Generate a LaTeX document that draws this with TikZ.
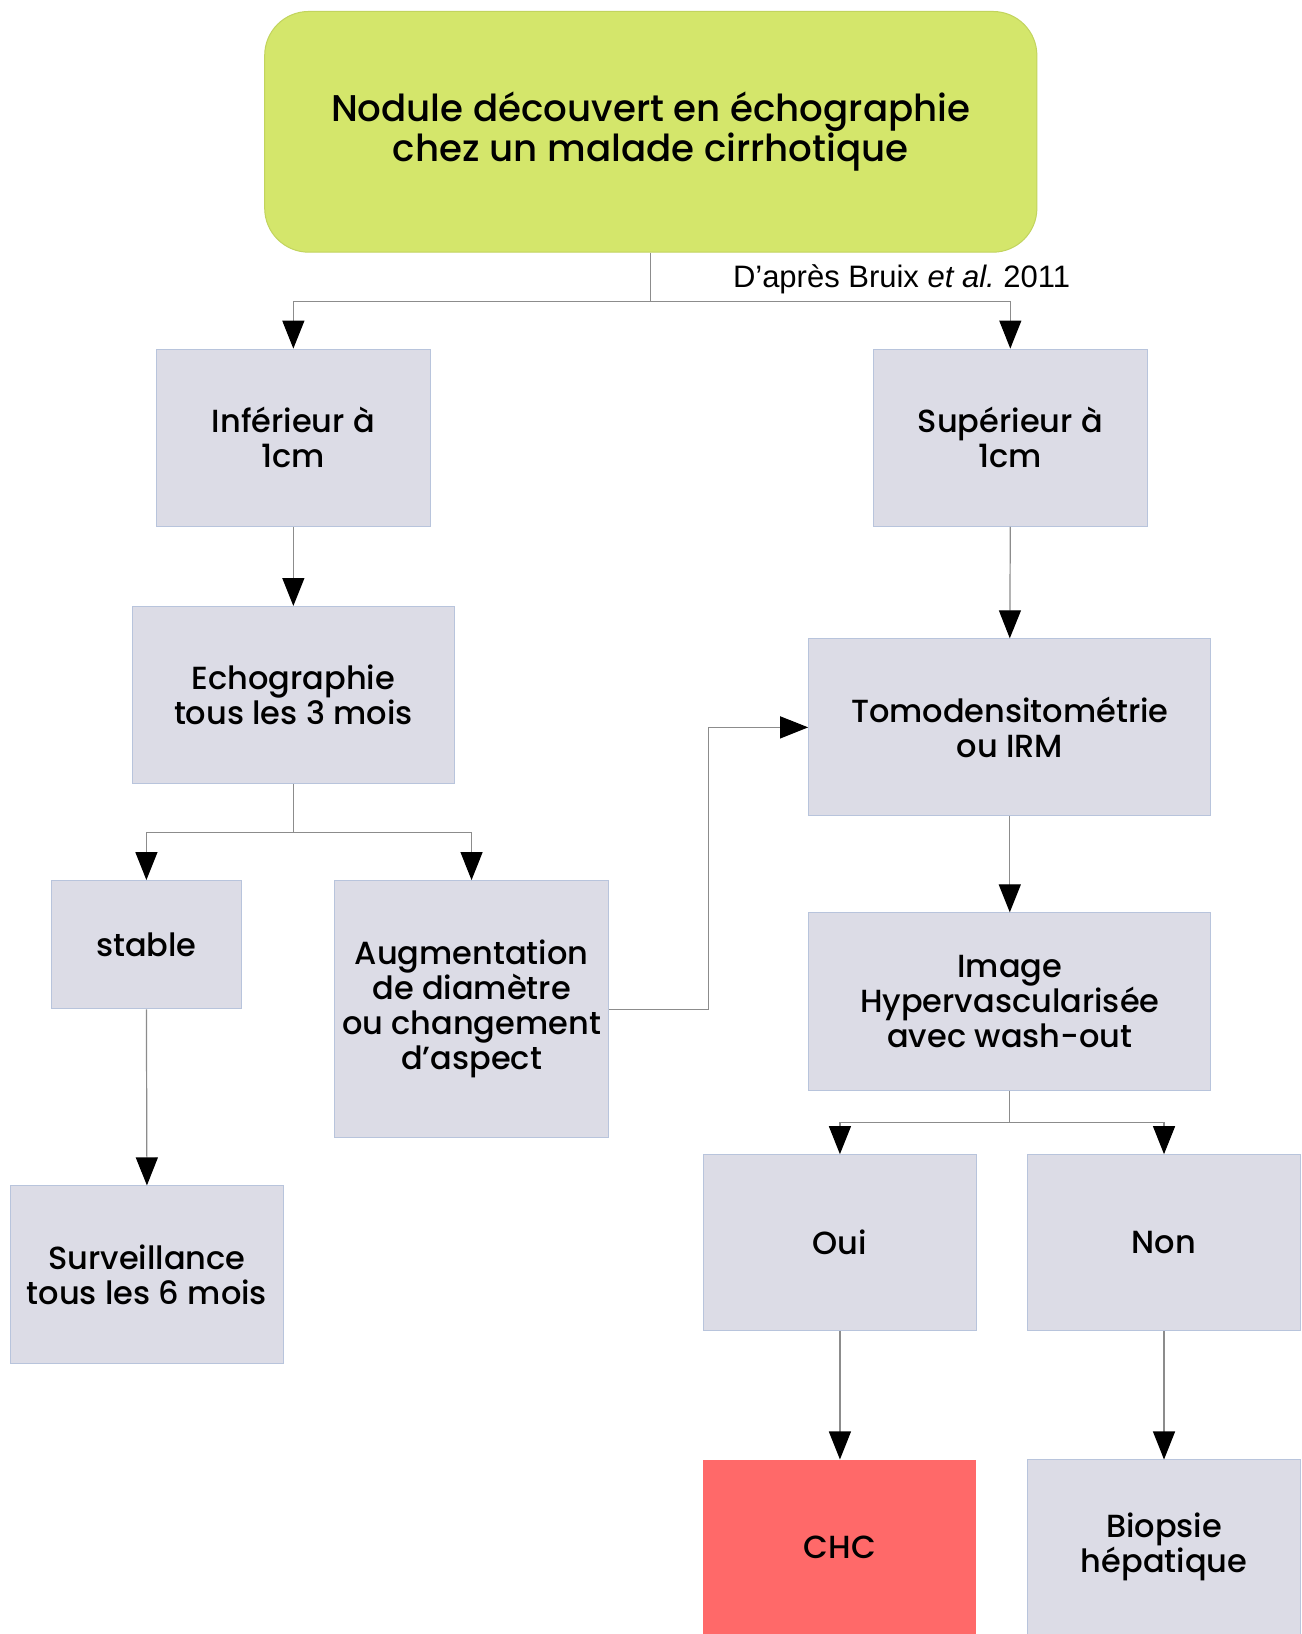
\documentclass[tikz,border=0pt]{standalone}
\usepackage{fontspec}
\setmainfont{Poppins}[UprightFont=* Medium]
\newfontfamily\citefont{Liberation Sans}
\usetikzlibrary{arrows.meta,calc}
\def\pxu{0.5212pt}
\definecolor{boxfill}{HTML}{DCDCE6}
\definecolor{boxline}{HTML}{B8C4DC}
\definecolor{topfill}{HTML}{D4E66B}
\definecolor{topline}{HTML}{C2D45E}
\definecolor{chcfill}{HTML}{FF6969}
\definecolor{connline}{HTML}{8C8C8C}
\tikzset{
  stepbox/.style={draw=boxline, fill=boxfill, line width=0.5pt, inner sep=0pt,
    align=center, font=\fontsize{16}{17.5}\selectfont, text=black},
  conn/.style={draw=connline, line width=0.6pt},
  arr/.style={conn, -{Triangle[length=14pt,width=11pt,black]}},
}
\begin{document}
\begin{tikzpicture}[x=\pxu, y=-\pxu]
\useasboundingbox (0,0) rectangle (1249,1568);
\fill[white] (0,0) rectangle (1249,1568);

\node[draw=topline, fill=topfill, rounded corners=22pt, line width=0.5pt,
  minimum width=741*\pxu, minimum height=231*\pxu, align=center,
  font=\fontsize{18.6}{19.8}\selectfont] (top) at (624.5,126.5)
  {Nodule découvert en échographie\\chez un malade cirrhotique};

\node[font=\citefont\fontsize{15.5}{17}\selectfont, anchor=west, inner sep=0pt] (cite) at (703,268)
  {D’après Bruix \textit{et al.}\ 2011};

\node[stepbox, minimum width=263*\pxu, minimum height=170*\pxu] (inf) at (281.5,420) {Inférieur à\\1cm};
\node[stepbox, minimum width=263*\pxu, minimum height=170*\pxu] (sup) at (969.5,420) {Supérieur à\\1cm};
\node[stepbox, minimum width=309*\pxu, minimum height=170*\pxu] (echo) at (281.5,667) {Echographie\\tous les 3 mois};
\node[stepbox, minimum width=183*\pxu, minimum height=123*\pxu] (stable) at (140.5,906.5) {stable};
\node[stepbox, minimum width=263*\pxu, minimum height=247*\pxu] (aug) at (452.5,968.5) {Augmentation\\de diamètre\\ou changement\\d’aspect};
\node[stepbox, minimum width=262*\pxu, minimum height=170*\pxu] (surv) at (141,1223) {Surveillance\\tous les 6 mois};
\node[stepbox, minimum width=386*\pxu, minimum height=170*\pxu] (tomo) at (969,698) {Tomodensitométrie\\ou IRM};
\node[stepbox, minimum width=386*\pxu, minimum height=170*\pxu] (img) at (969,961) {Image\\Hypervascularisée\\avec wash-out};
\node[stepbox, minimum width=262*\pxu, minimum height=169*\pxu] (oui) at (806,1192.5) {Oui};
\node[stepbox, minimum width=262*\pxu, minimum height=169*\pxu] (non) at (1117,1192.5) {Non};
\node[stepbox, draw=none, fill=chcfill, minimum width=262*\pxu, minimum height=167*\pxu] (chc) at (806,1484.5) {CHC};
\node[stepbox, minimum width=262*\pxu, minimum height=167*\pxu] (bio) at (1117,1484.5) {Biopsie\\hépatique};

\coordinate (s1) at (624.5,289);
\draw[conn] (top.south) -- (s1);
\draw[arr] (s1) -| (inf.north);
\draw[arr] (s1) -| (sup.north);

\draw[arr] (inf.south) -- (echo.north);

\coordinate (s2) at (281.5,799);
\draw[conn] (echo.south) -- (s2);
\draw[arr] (s2) -| (stable.north);
\draw[arr] (s2) -| (aug.north);

\draw[arr] (stable.south) -- (surv.north);

\coordinate (j1) at (680,968.5);
\draw[arr] (aug.east) -- (j1) |- (tomo.west);

\draw[arr] (sup.south) -- (tomo.north);
\draw[arr] (tomo.south) -- (img.north);

\coordinate (s3) at (969,1077);
\draw[conn] (img.south) -- (s3);
\draw[arr] (s3) -| (oui.north);
\draw[arr] (s3) -| (non.north);

\draw[arr] (oui.south) -- (chc.north);
\draw[arr] (non.south) -- (bio.north);
\end{tikzpicture}
\end{document}
